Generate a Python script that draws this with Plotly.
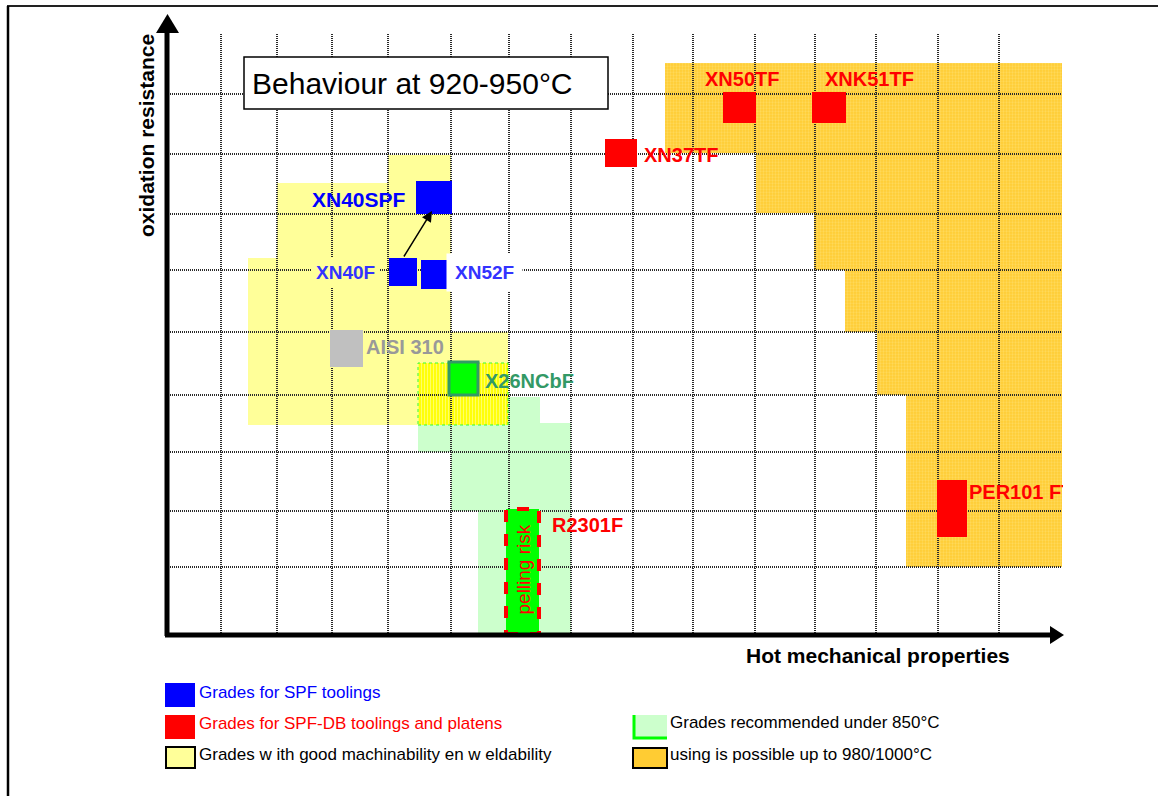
import plotly.graph_objects as go

# ---------------- data (schematic chart units: X = hot mechanical properties, Y = oxidation resistance)
grid_x = [55, 111, 166, 222, 285, 343, 405, 467, 527, 589, 649, 710, 772, 833]
grid_y = [541, 481, 421, 365, 303, 240, 183, 124, 68]
grid_top = 601
grid_right = 896

# regions (polygons)
yellow_x = [82, 82, 111, 111, 222, 222, 285, 285, 342, 342]
yellow_y = [210, 377, 377, 452, 452, 480, 480, 303, 303, 210]

green_x = [252, 252, 374, 374, 405, 405, 312, 312, 285, 285]
green_y = [183, 238, 238, 212, 212, 0, 0, 124, 124, 183]

hatch_x = [252, 342, 342, 252]
hatch_y = [210, 210, 272, 272]

orange_x = [499, 896, 896, 740, 740, 711, 711, 679, 679, 648, 648, 590, 590, 499]
orange_y = [572, 572, 68, 68, 240, 240, 303, 303, 365, 365, 422, 422, 482, 482]

# grades (squares)
grades = ["XN40SPF", "XN40F", "XN52F", "AISI 310", "X26NCbF", "XN37TF", "XN50TF", "XNK51TF", "PER101", "R2301F"]
sq_x0 = [250, 223, 255, 164, 283, 439, 557, 646, 771, 340]
sq_x1 = [286, 251, 283, 197, 312, 471, 590, 680, 801, 373]
sq_y0 = [421, 349, 346, 268, 240, 468, 512, 512, 98, 1]
sq_y1 = [454, 377, 375, 305, 273, 496, 543, 543, 155, 126]
sq_fill = ["#0000FF", "#0000FF", "#0000FF", "#C0C0C0", "#00FF00", "#FF0000", "#FF0000", "#FF0000", "#FF0000", "#00FF00"]
sq_line = [None, None, None, None, "#339966", None, None, None, None, "#FF0000"]
sq_dash = ["solid"] * 9 + ["dash"]

# labels
lab_text = ["XN40SPF", "XN40F", "XN52F", "AISI 310", "X26NCbF", "XN37TF", "XN50TF", "XNK51TF", "R2301F"]
lab_x = [242, 214, 280, 198, 317, 476, 537, 657, 384]
lab_y = [436, 363, 363, 288, 254, 480, 556, 556, 110]
lab_anchor = ["right", "right", "left", "left", "left", "left", "left", "left", "left"]
lab_color = ["#0000FF", "#3333FF", "#3333FF", "#999999", "#339966", "#FF0000", "#FF0000", "#FF0000", "#FF0000"]
lab_size = [21, 19, 19, 20, 20, 20, 20, 20, 20]
lab_bg = [None, "#FFFF99", "#FFFFFF", None, None, None, None, None, None]
lab_pad = [1, 4, 8, 1, 1, 1, 1, 1, 1]

per_text = "PER101 FT"
per_x = [803]
per_y = [141]

legend_text = ["Grades for SPF toolings",
               "Grades for SPF-DB toolings and platens",
               "Grades w ith good machinability en w eldability",
               "Grades recommended under 850°C",
               "using is possible up to 980/1000°C"]
legend_color = ["#0000FF", "#FF0000", "#000000", "#000000", "#000000"]

FONT = "Liberation Sans, Arial, sans-serif"

# ---------------- layout geometry
W, H = 1158, 796
ML, MR, MT, MB = 150, 95, 14, 151
XR = [-16, 897]
YR = [-10, 621]


def P(px, py):
    """pixel -> paper coordinates (for decorations outside the plot)."""
    pw = W - ML - MR
    ph = H - MT - MB
    return (px - ML) / pw, (H - MB - py) / ph


fig = go.Figure()

# regions
fig.add_trace(go.Scatter(x=yellow_x, y=yellow_y, fill="toself", fillcolor="#FFFF99",
                         mode="lines", line=dict(width=0), hoverinfo="skip"))
fig.add_trace(go.Scatter(x=green_x, y=green_y, fill="toself", fillcolor="#CCFFCC",
                         mode="lines", line=dict(width=0), hoverinfo="skip"))
fig.add_trace(go.Scatter(x=hatch_x, y=hatch_y, fill="toself", fillcolor="#FFFF00",
                         fillpattern=dict(shape="|", bgcolor="#FFFF00", fgcolor="#FFFFCC",
                                          size=3, solidity=0.4),
                         mode="lines", line=dict(width=0), hoverinfo="skip"))
fig.add_trace(go.Scatter(x=orange_x, y=orange_y, fill="toself", fillcolor="#FFCC33",
                         fillpattern=dict(shape=".", bgcolor="#FFCC33", fgcolor="#FFE680",
                                          size=3, solidity=0.45),
                         mode="lines", line=dict(width=0), hoverinfo="skip"))

# grid
gx, gy = [], []
for v in grid_x:
    gx += [v, v, None]
    gy += [0, grid_top, None]
for v in grid_y:
    gx += [0, grid_right, None]
    gy += [v, v, None]
fig.add_trace(go.Scatter(x=gx, y=gy, mode="lines",
                         line=dict(color="#2a2a2a", width=2, dash="1px,1px"),
                         hoverinfo="skip"))

# PER101 label (clipped by plot edge)
fig.add_trace(go.Scatter(x=per_x, y=per_y, mode="text", text=[per_text],
                         textposition="middle right", cliponaxis=True,
                         textfont=dict(family=FONT, size=20, color="#FF0000"),
                         texttemplate="<b>%{text}</b>", hoverinfo="skip"))

shapes = []
# hatched border
shapes.append(dict(type="rect", xref="x", yref="y", x0=hatch_x[0], x1=hatch_x[1],
                   y0=hatch_y[0], y1=hatch_y[2], line=dict(color="#33FF33", width=1, dash="dot"),
                   layer="above"))
# squares
for i in range(len(grades)):
    lw = 0
    lc = sq_fill[i]
    if sq_line[i]:
        lc = sq_line[i]
        lw = 3 if grades[i] != "R2301F" else 4
    shapes.append(dict(type="rect", xref="x", yref="y", x0=sq_x0[i], x1=sq_x1[i],
                       y0=sq_y0[i], y1=sq_y1[i], fillcolor=sq_fill[i],
                       line=dict(color=lc, width=lw, dash=sq_dash[i]), layer="above"))
# title box
shapes.append(dict(type="rect", xref="x", yref="y", x0=78, x1=442, y0=526, y1=578,
                   fillcolor="white", line=dict(color="black", width=1.5), layer="above"))

# axes arrows (paper coords)
a0 = P(167, 636); a1 = P(167, 30)
shapes.append(dict(type="line", xref="paper", yref="paper", x0=a0[0], y0=a0[1], x1=a1[0], y1=a1[1],
                   line=dict(color="black", width=5)))
t1, t2, t3 = P(156, 33), P(179, 33), P(167.5, 14)
shapes.append(dict(type="path", xref="paper", yref="paper",
                   path=f"M {t1[0]} {t1[1]} L {t2[0]} {t2[1]} L {t3[0]} {t3[1]} Z",
                   fillcolor="black", line=dict(width=0)))
b0 = P(165, 635); b1 = P(1052, 635)
shapes.append(dict(type="line", xref="paper", yref="paper", x0=b0[0], y0=b0[1], x1=b1[0], y1=b1[1],
                   line=dict(color="black", width=5)))
t1, t2, t3 = P(1050, 626), P(1050, 644), P(1064, 635)
shapes.append(dict(type="path", xref="paper", yref="paper",
                   path=f"M {t1[0]} {t1[1]} L {t2[0]} {t2[1]} L {t3[0]} {t3[1]} Z",
                   fillcolor="black", line=dict(width=0)))

# frame
f0 = P(7, 6); f1 = P(1158, 6); f2 = P(8, 796)
shapes.append(dict(type="line", xref="paper", yref="paper", x0=f0[0], y0=f0[1], x1=f1[0], y1=f1[1],
                   line=dict(color="#222222", width=2)))
shapes.append(dict(type="line", xref="paper", yref="paper", x0=P(8, 6)[0], y0=P(8, 6)[1],
                   x1=f2[0], y1=f2[1], line=dict(color="black", width=2.5)))

# legend swatches
sw = [
    dict(box=(165, 683, 195, 707), fill="#0000FF", line=None),
    dict(box=(165, 715, 195, 739), fill="#FF0000", line=None),
    dict(box=(166, 747, 195, 768), fill="#FFFF99", line="black"),
    dict(box=(633, 715, 667, 738), fill="#CCFFCC", line=None),
    dict(box=(633, 748, 667, 768), fill="#FFCC33", line="black"),
]
for s in sw:
    x0p, y0p = P(s["box"][0], s["box"][1])
    x1p, y1p = P(s["box"][2], s["box"][3])
    shapes.append(dict(type="rect", xref="paper", yref="paper", x0=x0p, x1=x1p, y0=y1p, y1=y0p,
                       fillcolor=s["fill"],
                       line=dict(color=s["line"] or s["fill"], width=2 if s["line"] else 0)))
# green borders for swatch 4 (left + bottom)
g_a, g_b, g_c = P(634, 715), P(634, 738), P(667, 738)
shapes.append(dict(type="path", xref="paper", yref="paper",
                   path=f"M {g_a[0]} {g_a[1]} L {g_b[0]} {g_b[1]} L {g_c[0]} {g_c[1]}",
                   line=dict(color="#00FF00", width=3)))

annotations = []
for i in range(len(lab_text)):
    a = dict(x=lab_x[i], y=lab_y[i], xref="x", yref="y", text=f"<b>{lab_text[i]}</b>",
             showarrow=False, xanchor=lab_anchor[i], yanchor="middle",
             font=dict(family=FONT, size=lab_size[i], color=lab_color[i]),
             borderpad=lab_pad[i])
    if lab_bg[i]:
        a["bgcolor"] = lab_bg[i]
    annotations.append(a)

# pelling risk
annotations.append(dict(x=(sq_x0[9] + sq_x1[9]) / 2, y=65, xref="x", yref="y", text="pelling risk",
                        showarrow=False, textangle=-90, xanchor="center", yanchor="middle",
                        font=dict(family=FONT, size=19, color="#FF0000")))
# arrow XN40F -> XN40SPF
annotations.append(dict(x=266, y=424, ax=237, ay=377, xref="x", yref="y", axref="x", ayref="y",
                        text="", showarrow=True, arrowhead=2, arrowsize=1.4, arrowwidth=1.5,
                        arrowcolor="black"))
# title
annotations.append(dict(x=84, y=552, xref="x", yref="y", text="Behaviour at 920-950°C",
                        showarrow=False, xanchor="left", yanchor="middle",
                        font=dict(family=FONT, size=30, color="black")))
# axis titles
p = P(147, 136)
annotations.append(dict(x=p[0], y=p[1], xref="paper", yref="paper", text="<b>oxidation resistance</b>",
                        showarrow=False, textangle=-90, xanchor="center", yanchor="middle",
                        font=dict(family=FONT, size=21, color="black")))
p = P(878, 655)
annotations.append(dict(x=p[0], y=p[1], xref="paper", yref="paper", text="<b>Hot mechanical properties</b>",
                        showarrow=False, xanchor="center", yanchor="middle",
                        font=dict(family=FONT, size=21, color="black")))
# legend texts
leg_pos = [(197, 692), (197, 723), (197, 754), (668, 722), (668, 754)]
for t, c, (lx, ly) in zip(legend_text, legend_color, leg_pos):
    p = P(lx, ly)
    annotations.append(dict(x=p[0], y=p[1], xref="paper", yref="paper", text=t, showarrow=False,
                            xanchor="left", yanchor="middle",
                            font=dict(family=FONT, size=17, color=c)))

fig.update_layout(
    width=W, height=H,
    margin=dict(l=ML, r=MR, t=MT, b=MB, pad=0),
    paper_bgcolor="white", plot_bgcolor="white",
    showlegend=False,
    xaxis=dict(range=XR, showgrid=False, zeroline=False, showticklabels=False, showline=False,
               ticks="", fixedrange=True),
    yaxis=dict(range=YR, showgrid=False, zeroline=False, showticklabels=False, showline=False,
               ticks="", fixedrange=True),
    shapes=shapes,
    annotations=annotations,
)

fig.write_html("out.html", config={"displayModeBar": False},
               post_script="document.body.style.margin='0px';document.body.style.overflow='hidden';")
